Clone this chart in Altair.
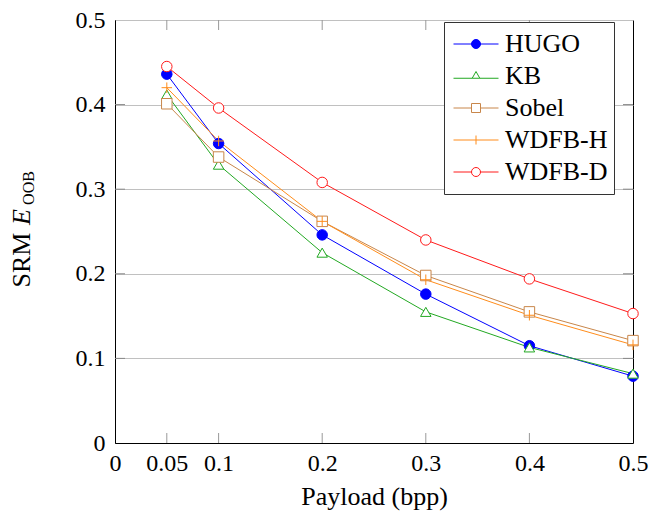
import altair as alt
import pandas as pd

payload = [0.05, 0.1, 0.2, 0.3, 0.4, 0.5]
series = ["HUGO", "KB", "Sobel", "WDFB-H", "WDFB-D"]
hugo = [0.436, 0.354, 0.246, 0.176, 0.115, 0.079]
kb = [0.412, 0.329, 0.225, 0.155, 0.113, 0.082]
sobel = [0.401, 0.338, 0.262, 0.198, 0.155, 0.121]
wdfb_h = [0.420, 0.357, 0.262, 0.193, 0.151, 0.116]
wdfb_d = [0.445, 0.396, 0.308, 0.240, 0.194, 0.153]
x_ticks = [0, 0.05, 0.1, 0.2, 0.3, 0.4, 0.5]
y_ticks = [0, 0.1, 0.2, 0.3, 0.4, 0.5]

colors = ["#0000ff", "#22a822", "#c8864a", "#ff8c1a", "#ff1a1a"]
fills = ["#0000ff", "white", "white", "white", "white"]
plot_shapes = ["circle", "triangle-up", "square", "M-1,0L1,0M0,-1L0,1", "circle"]
legend_shapes = [
    "M-1,0L1,0M-0.2,0A0.2,0.2,0,1,1,0.2,0A0.2,0.2,0,1,1,-0.2,0Z",
    "M-1,0.1L-0.17,0.1M0.17,0.1L1,0.1M-0.17,0.1L0.17,0.1L0,-0.2Z",
    "M-1,0L-0.2,0M0.2,0L1,0M-0.2,-0.2L0.2,-0.2L0.2,0.2L-0.2,0.2Z",
    "M-1,0L1,0M0,-0.2L0,0.2",
    "M-1,0L-0.2,0M0.2,0L1,0M-0.2,0A0.2,0.2,0,1,1,0.2,0A0.2,0.2,0,1,1,-0.2,0Z",
]

values = [hugo, kb, sobel, wdfb_h, wdfb_d]
rows = []
for s, vals in zip(series, values):
    for p, v in zip(payload, vals):
        rows.append({"payload": p, "value": v, "series": s})
df = pd.DataFrame(rows)

FONT = "Liberation Serif"
W, H = 518, 423

xscale = alt.Scale(domain=[0, 0.5], nice=False)
yscale = alt.Scale(domain=[0, 0.5], nice=False)

base = alt.Chart(df)

lines = base.mark_line(strokeWidth=1).encode(
    x=alt.X("payload:Q", scale=xscale,
            axis=alt.Axis(values=x_ticks, title="Payload (bpp)", grid=False, ticks=False,
                          labelFontSize=24, labelPadding=8,
                          labelColor="black", domainColor="black", labelFlush=False,
                          labelExpr="datum.value == 0 ? '0' : format(datum.value, '.2~f')",
                          titleFontSize=26, titleFontWeight="normal",
                          titlePadding=8, titleColor="black")),
    y=alt.Y("value:Q", scale=yscale,
            axis=alt.Axis(values=y_ticks, title=None, grid=True, gridColor="#c0c0c0",
                          ticks=False, labelFontSize=24, labelPadding=10,
                          labelColor="black", domainColor="black", labelFlush=False,
                          labelExpr="datum.value == 0 ? '0' : format(datum.value, '.1f')")),
    color=alt.Color("series:N", scale=alt.Scale(domain=series, range=colors), legend=None),
    detail="series:N",
)

points = base.mark_point(filled=True, size=110, strokeWidth=1, opacity=1).encode(
    x=alt.X("payload:Q", scale=xscale),
    y=alt.Y("value:Q", scale=yscale),
    shape=alt.Shape("series:N", scale=alt.Scale(domain=series, range=plot_shapes), legend=None),
    stroke=alt.Stroke("series:N", scale=alt.Scale(domain=series, range=colors), legend=None),
    fill=alt.Fill("series:N", scale=alt.Scale(domain=series, range=fills), legend=None),
)

leg = alt.Legend(title=None, orient="none", legendX=329, legendY=2,
                 labelFontSize=26, labelColor="black",
                 symbolSize=2025, symbolStrokeWidth=1, symbolOpacity=1,
                 clipHeight=32, labelOffset=6, padding=6, symbolOffset=3,
                 strokeColor="#333333", fillColor="white", rowPadding=0)

legend_layer = base.mark_point(filled=True, size=2025, strokeWidth=1, opacity=0).encode(
    x=alt.X("payload:Q", scale=xscale),
    y=alt.Y("value:Q", scale=yscale),
    shape=alt.Shape("series:N", scale=alt.Scale(domain=series, range=legend_shapes), legend=leg),
    stroke=alt.Stroke("series:N", scale=alt.Scale(domain=series, range=colors), legend=leg),
    fill=alt.Fill("series:N", scale=alt.Scale(domain=series, range=fills), legend=leg),
)

tick_df = pd.DataFrame({"t": x_ticks[1:-1]})
bottom_ticks = alt.Chart(tick_df).mark_rule(color="#999999", strokeWidth=1).encode(
    x=alt.X("t:Q", scale=xscale), y=alt.value(H), y2=alt.value(H - 10))
top_ticks = alt.Chart(tick_df).mark_rule(color="#999999", strokeWidth=1).encode(
    x=alt.X("t:Q", scale=xscale), y=alt.value(0), y2=alt.value(10))
ytick_df = pd.DataFrame({"t": y_ticks[1:-1]})
left_ticks = alt.Chart(ytick_df).mark_rule(color="#888888", strokeWidth=1).encode(
    y=alt.Y("t:Q", scale=yscale), x=alt.value(0), x2=alt.value(10))
right_ticks = alt.Chart(ytick_df).mark_rule(color="#888888", strokeWidth=1).encode(
    y=alt.Y("t:Q", scale=yscale), x=alt.value(W), x2=alt.value(W - 10))

t1 = alt.Chart(pd.DataFrame({"t": ["SRM"]})).mark_text(
    fontSize=26, angle=270, align="center", baseline="alphabetic", color="black"
).encode(text="t:N", x=alt.value(-85), y=alt.value(240))
t2 = alt.Chart(pd.DataFrame({"t": ["E"]})).mark_text(
    fontSize=26, fontStyle="italic", angle=270, align="center",
    baseline="alphabetic", color="black"
).encode(text="t:N", x=alt.value(-85), y=alt.value(197))
t3 = alt.Chart(pd.DataFrame({"t": ["OOB"]})).mark_text(
    fontSize=16, angle=270, align="center", baseline="alphabetic", color="black"
).encode(text="t:N", x=alt.value(-81), y=alt.value(168))

chart = alt.layer(
    lines, points, legend_layer, bottom_ticks, top_ticks, left_ticks, right_ticks, t1, t2, t3
).resolve_scale(
    shape="independent", stroke="independent", fill="independent"
).properties(
    width=W, height=H,
    autosize=alt.AutoSizeParams(type="none"),
    padding={"left": 107, "top": 12, "right": 30, "bottom": 70},
).configure(
    font=FONT
).configure_axis(
    labelFont=FONT, titleFont=FONT
).configure_legend(
    labelFont=FONT
).configure_text(
    font=FONT
).configure_view(stroke="black", strokeWidth=1)

chart.save("out.html", embed_options={"renderer": "svg", "actions": False})
